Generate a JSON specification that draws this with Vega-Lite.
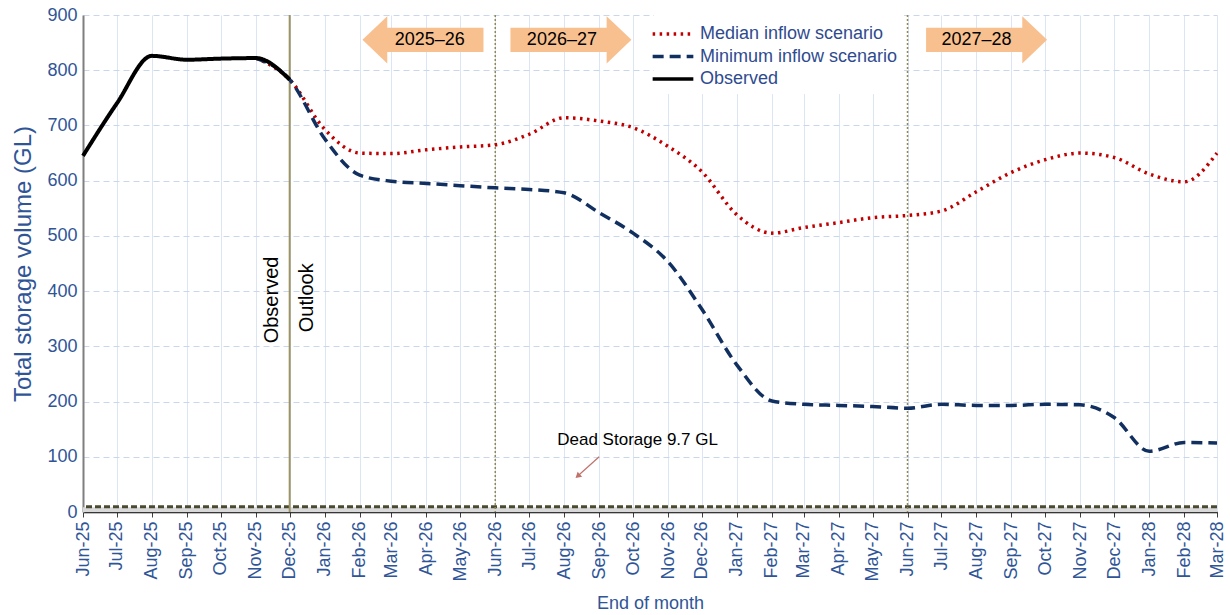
{
  "$schema": "https://vega.github.io/schema/vega-lite/v6.json",
  "width": 1134,
  "height": 497,
  "autosize": "none",
  "padding": {"left": 83, "top": 15, "right": 13, "bottom": 103},
  "background": "white",
  "config": {
    "font": "Liberation Sans",
    "view": {"stroke": null}
  },
  "datasets": {
    "storage": [
      {"month": "2025-06-01", "series": "Observed", "value": 645},
      {"month": "2025-07-01", "series": "Observed", "value": 740},
      {"month": "2025-08-01", "series": "Observed", "value": 826},
      {"month": "2025-09-01", "series": "Observed", "value": 819},
      {"month": "2025-10-01", "series": "Observed", "value": 821},
      {"month": "2025-11-01", "series": "Observed", "value": 822},
      {"month": "2025-12-01", "series": "Observed", "value": 783},

      {"month": "2025-11-01", "series": "Median inflow scenario", "value": 822},
      {"month": "2025-12-01", "series": "Median inflow scenario", "value": 783},
      {"month": "2026-01-01", "series": "Median inflow scenario", "value": 693},
      {"month": "2026-02-01", "series": "Median inflow scenario", "value": 650},
      {"month": "2026-03-01", "series": "Median inflow scenario", "value": 649},
      {"month": "2026-04-01", "series": "Median inflow scenario", "value": 656},
      {"month": "2026-05-01", "series": "Median inflow scenario", "value": 661},
      {"month": "2026-06-01", "series": "Median inflow scenario", "value": 665},
      {"month": "2026-07-01", "series": "Median inflow scenario", "value": 684},
      {"month": "2026-08-01", "series": "Median inflow scenario", "value": 714},
      {"month": "2026-09-01", "series": "Median inflow scenario", "value": 708},
      {"month": "2026-10-01", "series": "Median inflow scenario", "value": 696},
      {"month": "2026-11-01", "series": "Median inflow scenario", "value": 662},
      {"month": "2026-12-01", "series": "Median inflow scenario", "value": 616},
      {"month": "2027-01-01", "series": "Median inflow scenario", "value": 538},
      {"month": "2027-02-01", "series": "Median inflow scenario", "value": 505},
      {"month": "2027-03-01", "series": "Median inflow scenario", "value": 515},
      {"month": "2027-04-01", "series": "Median inflow scenario", "value": 524},
      {"month": "2027-05-01", "series": "Median inflow scenario", "value": 533},
      {"month": "2027-06-01", "series": "Median inflow scenario", "value": 537},
      {"month": "2027-07-01", "series": "Median inflow scenario", "value": 545},
      {"month": "2027-08-01", "series": "Median inflow scenario", "value": 580},
      {"month": "2027-09-01", "series": "Median inflow scenario", "value": 615},
      {"month": "2027-10-01", "series": "Median inflow scenario", "value": 638},
      {"month": "2027-11-01", "series": "Median inflow scenario", "value": 650},
      {"month": "2027-12-01", "series": "Median inflow scenario", "value": 642},
      {"month": "2028-01-01", "series": "Median inflow scenario", "value": 612},
      {"month": "2028-02-01", "series": "Median inflow scenario", "value": 598},
      {"month": "2028-03-01", "series": "Median inflow scenario", "value": 650},

      {"month": "2025-11-01", "series": "Minimum inflow scenario", "value": 822},
      {"month": "2025-12-01", "series": "Minimum inflow scenario", "value": 783},
      {"month": "2026-01-01", "series": "Minimum inflow scenario", "value": 676},
      {"month": "2026-02-01", "series": "Minimum inflow scenario", "value": 610},
      {"month": "2026-03-01", "series": "Minimum inflow scenario", "value": 599},
      {"month": "2026-04-01", "series": "Minimum inflow scenario", "value": 595},
      {"month": "2026-05-01", "series": "Minimum inflow scenario", "value": 591},
      {"month": "2026-06-01", "series": "Minimum inflow scenario", "value": 587},
      {"month": "2026-07-01", "series": "Minimum inflow scenario", "value": 584},
      {"month": "2026-08-01", "series": "Minimum inflow scenario", "value": 578},
      {"month": "2026-09-01", "series": "Minimum inflow scenario", "value": 542},
      {"month": "2026-10-01", "series": "Minimum inflow scenario", "value": 505},
      {"month": "2026-11-01", "series": "Minimum inflow scenario", "value": 453},
      {"month": "2026-12-01", "series": "Minimum inflow scenario", "value": 367},
      {"month": "2027-01-01", "series": "Minimum inflow scenario", "value": 266},
      {"month": "2027-02-01", "series": "Minimum inflow scenario", "value": 201},
      {"month": "2027-03-01", "series": "Minimum inflow scenario", "value": 195},
      {"month": "2027-04-01", "series": "Minimum inflow scenario", "value": 193},
      {"month": "2027-05-01", "series": "Minimum inflow scenario", "value": 191},
      {"month": "2027-06-01", "series": "Minimum inflow scenario", "value": 188},
      {"month": "2027-07-01", "series": "Minimum inflow scenario", "value": 195},
      {"month": "2027-08-01", "series": "Minimum inflow scenario", "value": 193},
      {"month": "2027-09-01", "series": "Minimum inflow scenario", "value": 193},
      {"month": "2027-10-01", "series": "Minimum inflow scenario", "value": 195},
      {"month": "2027-11-01", "series": "Minimum inflow scenario", "value": 194},
      {"month": "2027-12-01", "series": "Minimum inflow scenario", "value": 171},
      {"month": "2028-01-01", "series": "Minimum inflow scenario", "value": 110},
      {"month": "2028-02-01", "series": "Minimum inflow scenario", "value": 126},
      {"month": "2028-03-01", "series": "Minimum inflow scenario", "value": 125}
    ]
  },
  "layer": [
    {
      "data": {"values": [{"level": 9.7}]},
      "mark": {"type": "rule", "color": "#d9d9d9", "strokeWidth": 5, "yOffset": 3},
      "encoding": {"y": {"field": "level", "type": "quantitative", "scale": {"domain": [0, 900], "nice": false}}}
    },
    {
      "data": {"values": [{"level": 9.7}]},
      "mark": {"type": "rule", "color": "#4b4a30", "strokeWidth": 3, "strokeDash": [6, 3]},
      "encoding": {"y": {"field": "level", "type": "quantitative"}}
    },
    {
      "data": {"values": [{"d": "2025-12-01"}]},
      "mark": {"type": "rule", "color": "#9c9466", "strokeWidth": 2, "y2Offset": 5},
      "encoding": {"x": {"field": "d", "type": "temporal"}}
    },
    {
      "data": {"values": [{"d": "2026-06-01"}, {"d": "2027-06-01"}]},
      "mark": {"type": "rule", "color": "#8f8a55", "strokeWidth": 1.5, "strokeDash": [2, 2], "y2Offset": 5},
      "encoding": {"x": {"field": "d", "type": "temporal"}}
    },
    {
      "data": {"name": "storage"},
      "transform": [{"filter": "datum.series !== 'Observed'"}],
      "mark": {"type": "line", "interpolate": "monotone", "strokeWidth": 3.5},
      "encoding": {
        "x": {
          "field": "month",
          "type": "temporal",
          "scale": {
            "type": "utc",
            "domain": [
              {"year": 2025, "month": 6, "date": 1, "utc": true},
              {"year": 2028, "month": 3, "date": 1, "utc": true}
            ]
          },
          "axis": {
            "title": "End of month",
            "format": "%b-%y",
            "tickCount": {"interval": "month", "step": 1},
            "labelAngle": 270,
            "labelAlign": "right",
            "labelBaseline": "middle",
            "labelFontSize": 18,
            "labelColor": "#2f5597",
            "labelPadding": 4,
            "labelOverlap": false,
            "labelFlush": false,
            "titleColor": "#2f5597",
            "titleFontSize": 18,
            "titleFontWeight": "normal",
            "titlePadding": 13,
            "grid": true,
            "gridColor": "#dbe5f3",
            "gridWidth": 1,
            "domainColor": "#000000",
            "domainWidth": 1.5,
            "tickColor": "#404040",
            "tickSize": 5
          }
        },
        "y": {
          "field": "value",
          "type": "quantitative",
          "axis": {
            "title": "Total storage volume (GL)",
            "values": [0, 100, 200, 300, 400, 500, 600, 700, 800, 900],
            "labelFontSize": 18,
            "labelColor": "#2f5597",
            "labelPadding": 6,
            "ticks": false,
            "titleColor": "#2f5597",
            "titleFontSize": 24,
            "titleFontWeight": "normal",
            "titlePadding": 11,
            "grid": true,
            "gridColor": "#c8d7ee",
            "gridDash": [6, 4],
            "gridWidth": 1,
            "domainColor": "#7f7f7f",
            "domainWidth": 2
          }
        },
        "color": {
          "field": "series",
          "type": "nominal",
          "scale": {
            "domain": ["Median inflow scenario", "Minimum inflow scenario", "Observed"],
            "range": ["#c00000", "#12305f", "#000000"]
          },
          "legend": {
            "title": null,
            "orient": "none",
            "legendX": 571,
            "legendY": 0,
            "fillColor": "white",
            "padding": 6,
            "symbolType": "M-1.85,0H1.85",
            "symbolSize": 484,
            "symbolStrokeWidth": 3.5,
            "labelFontSize": 18,
            "labelColor": "#2f4b8f",
            "labelLimit": 300,
            "labelOffset": 14,
            "rowPadding": 0.5
          }
        },
        "strokeDash": {
          "field": "series",
          "type": "nominal",
          "scale": {
            "domain": ["Median inflow scenario", "Minimum inflow scenario", "Observed"],
            "range": [[2.5, 4.5], [11, 6], [1, 0]]
          },
          "legend": null
        }
      }
    },
    {
      "data": {"name": "storage"},
      "transform": [{"filter": "datum.series === 'Observed'"}],
      "mark": {"type": "line", "interpolate": "monotone", "strokeWidth": 4},
      "encoding": {
        "x": {"field": "month", "type": "temporal"},
        "y": {"field": "value", "type": "quantitative"},
        "color": {"field": "series", "type": "nominal"},
        "strokeDash": {"field": "series", "type": "nominal"}
      }
    },
    {
      "data": {"values": [{"d": "2026-03-29", "v": 855}]},
      "mark": {"type": "point", "filled": true, "opacity": 1, "color": "#f9c08f", "strokeWidth": 0, "size": 14641,
               "shape": "M1,-0.2 L-0.59,-0.2 L-0.59,-0.39 L-1,0 L-0.59,0.39 L-0.59,0.2 L1,0.2 Z"},
      "encoding": {
        "x": {"field": "d", "type": "temporal"},
        "y": {"field": "v", "type": "quantitative"}
      }
    },
    {
      "data": {"values": [{"d": "2026-08-07", "v": 855}, {"d": "2027-08-10", "v": 855}]},
      "mark": {"type": "point", "filled": true, "opacity": 1, "color": "#f9c08f", "strokeWidth": 0, "size": 14641,
               "shape": "M-1,-0.2 L0.59,-0.2 L0.59,-0.39 L1,0 L0.59,0.39 L0.59,0.2 L-1,0.2 Z"},
      "encoding": {
        "x": {"field": "d", "type": "temporal"},
        "y": {"field": "v", "type": "quantitative"}
      }
    },
    {
      "data": {"values": [
        {"d": "2026-04-04", "v": 855, "label": "2025–26"},
        {"d": "2026-07-30", "v": 855, "label": "2026–27"},
        {"d": "2027-08-01", "v": 855, "label": "2027–28"}
      ]},
      "mark": {"type": "text", "fontSize": 18, "color": "#000000", "align": "center", "baseline": "middle"},
      "encoding": {
        "x": {"field": "d", "type": "temporal"},
        "y": {"field": "v", "type": "quantitative"},
        "text": {"field": "label"}
      }
    },
    {
      "data": {"values": [
        {"d": "2025-11-15", "v": 384, "label": "Observed"},
        {"d": "2025-12-16", "v": 388, "label": "Outlook"}
      ]},
      "mark": {"type": "text", "fontSize": 20, "angle": 270, "color": "#000000", "align": "center", "baseline": "middle"},
      "encoding": {
        "x": {"field": "d", "type": "temporal"},
        "y": {"field": "v", "type": "quantitative"},
        "text": {"field": "label"}
      }
    },
    {
      "data": {"values": [{"d": "2026-10-05", "v": 130, "label": "Dead Storage 9.7 GL"}]},
      "mark": {"type": "text", "fontSize": 17, "color": "#000000", "align": "center", "baseline": "middle"},
      "encoding": {
        "x": {"field": "d", "type": "temporal"},
        "y": {"field": "v", "type": "quantitative"},
        "text": {"field": "label"}
      }
    },
    {
      "data": {"values": [{"d": "2026-09-01", "v": 100, "d2": "2026-08-14", "v2": 67}]},
      "mark": {"type": "rule", "color": "#c0726b", "strokeWidth": 1.2},
      "encoding": {
        "x": {"field": "d", "type": "temporal"},
        "y": {"field": "v", "type": "quantitative"},
        "x2": {"field": "d2"},
        "y2": {"field": "v2"}
      }
    },
    {
      "data": {"values": [{"d": "2026-08-13", "v": 65}]},
      "mark": {"type": "point", "shape": "triangle-up", "filled": true, "opacity": 1, "color": "#c0726b", "size": 45, "angle": 228},
      "encoding": {
        "x": {"field": "d", "type": "temporal"},
        "y": {"field": "v", "type": "quantitative"}
      }
    }
  ]
}
